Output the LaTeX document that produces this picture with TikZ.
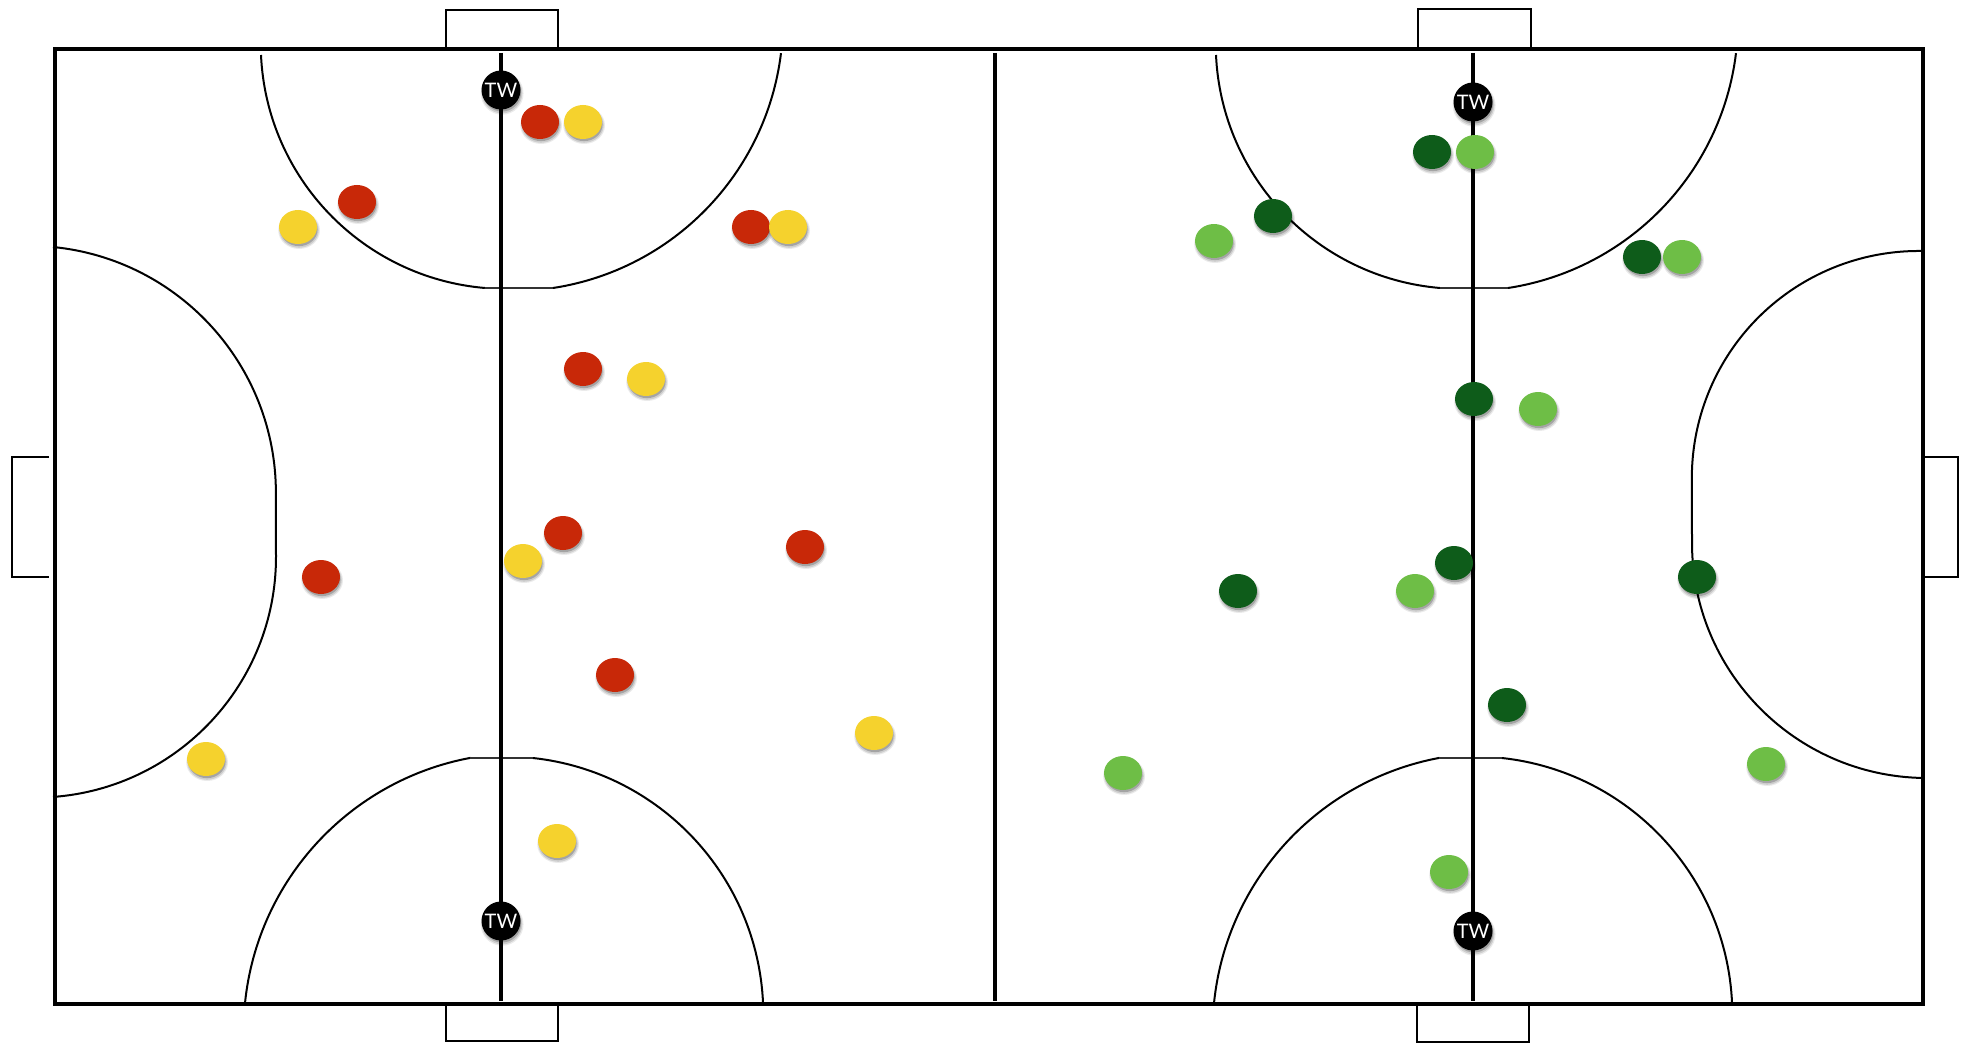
\documentclass[tikz,border=0pt]{standalone}
\usepackage{fontspec}
\newfontfamily\twfont{Lato}
\usetikzlibrary{shapes.geometric,shadows}
\definecolor{pred}{RGB}{200,40,8}
\definecolor{pyellow}{RGB}{245,210,45}
\definecolor{pdark}{RGB}{14,92,26}
\definecolor{plight}{RGB}{110,190,70}
\begin{document}
\begin{tikzpicture}[x=1pt,y=-1pt,
  court/.style={line width=3.5pt},
  axisline/.style={line width=4pt},
  goalline/.style={line width=1.5pt},
  arcline/.style={line width=2pt},
  flatline/.style={line width=1.5pt, black!80},
  pshadow/.style={
    drop shadow={shadow xshift=1pt, shadow yshift=-3pt, shadow scale=1.1, opacity=0.08, fill=black},
    drop shadow={shadow xshift=1pt, shadow yshift=-3pt, shadow scale=1.04, opacity=0.12, fill=black},
    drop shadow={shadow xshift=1pt, shadow yshift=-2.5pt, shadow scale=0.98, opacity=0.2, fill=black}},
  player/.style={ellipse, minimum width=38pt, minimum height=34pt, inner sep=0pt, draw=none, pshadow},
  red/.style={player, fill=pred},
  yel/.style={player, fill=pyellow},
  dgr/.style={player, fill=pdark},
  lgr/.style={player, fill=plight},
  tw/.style={circle, fill=black, minimum size=39pt, inner sep=0pt, text=white, pshadow,
    font=\twfont\fontsize{20}{20}\selectfont}]
\useasboundingbox (0,0) rectangle (1967,1043);
\fill[white] (0,0) rectangle (1967,1043);

% goals
\draw[goalline] (446,47) -- (446,10) -- (558,10) -- (558,47);
\draw[goalline] (1418,47) -- (1418,9) -- (1531,9) -- (1531,47);
\draw[goalline] (446,1006) -- (446,1041) -- (558,1041) -- (558,1006);
\draw[goalline] (1417,1006) -- (1417,1042) -- (1529,1042) -- (1529,1006);
\draw[goalline] (49,457) -- (12,457) -- (12,577) -- (49,577);
\draw[goalline] (1925,457) -- (1958,457) -- (1958,577) -- (1925,577);

% arcs
\draw[arcline] (53,247) arc[start angle=-84.4, end angle=0, radius=247] -- (276,557)
  arc[start angle=0, end angle=85.8, radius=240.6];
\draw[arcline] (261,55) arc[start angle=177.4, end angle=94.9, radius=245];
\draw[flatline] (485,288) -- (553,288);
\draw[arcline] (553,288) arc[start angle=81.3, end angle=7.0, radius=271];
\draw[arcline] (245,1003) arc[start angle=-174.2, end angle=-100.6, radius=278];
\draw[flatline] (470,758) -- (533,758);
\draw[arcline] (533,758) arc[start angle=-83.8, end angle=-2.6, radius=258.2];

\draw[arcline] (1216,55) arc[start angle=177.4, end angle=94.9, radius=245];
\draw[flatline] (1440,288) -- (1508,288);
\draw[arcline] (1508,288) arc[start angle=81.3, end angle=7.0, radius=271];
\draw[arcline] (1214,1003) arc[start angle=-174.2, end angle=-100.6, radius=278];
\draw[flatline] (1439,758) -- (1502,758);
\draw[arcline] (1502,758) arc[start angle=-83.8, end angle=-2.6, radius=258.2];
\draw[arcline] (1922,251) arc[start angle=-89.2, end angle=-180, radius=227] -- (1692,543)
  arc[start angle=180, end angle=91, radius=235];

% court lines
\draw[court] (55,49) rectangle (1923,1004);
\draw[axisline] (995,53) -- (995,1001);
\draw[axisline] (501,53) -- (501,1001);
\draw[axisline] (1473,53) -- (1473,1001);

% goalkeepers
\node[tw] (tw1) at (501,90) {TW};
\node[tw] (tw2) at (501,921) {TW};
\node[tw] (tw3) at (1473,102) {TW};
\node[tw] (tw4) at (1473,931) {TW};

% red team
\node[red] (r1) at (540,122) {};
\node[red] (r2) at (357,202) {};
\node[red] (r3) at (751,227) {};
\node[red] (r4) at (583,369) {};
\node[red] (r5) at (563,533) {};
\node[red] (r6) at (321,577) {};
\node[red] (r7) at (805,547) {};
\node[red] (r8) at (615,675) {};

% yellow team
\node[yel] (y1) at (583,122) {};
\node[yel] (y2) at (298,227) {};
\node[yel] (y3) at (788,227) {};
\node[yel] (y4) at (646,379) {};
\node[yel] (y5) at (523,561) {};
\node[yel] (y6) at (206,759) {};
\node[yel] (y7) at (874,733) {};
\node[yel] (y8) at (557,841) {};

% dark green team
\node[dgr] (d1) at (1432,152) {};
\node[dgr] (d2) at (1273,216) {};
\node[dgr] (d3) at (1642,257) {};
\node[dgr] (d4) at (1474,399) {};
\node[dgr] (d5) at (1454,563) {};
\node[dgr] (d6) at (1238,591) {};
\node[dgr] (d7) at (1697,577) {};
\node[dgr] (d8) at (1507,705) {};

% light green team
\node[lgr] (l1) at (1475,152) {};
\node[lgr] (l2) at (1214,241) {};
\node[lgr] (l3) at (1682,257) {};
\node[lgr] (l4) at (1538,409) {};
\node[lgr] (l5) at (1415,591) {};
\node[lgr] (l6) at (1123,773) {};
\node[lgr] (l7) at (1766,764) {};
\node[lgr] (l8) at (1449,872) {};
\end{tikzpicture}
\end{document}
